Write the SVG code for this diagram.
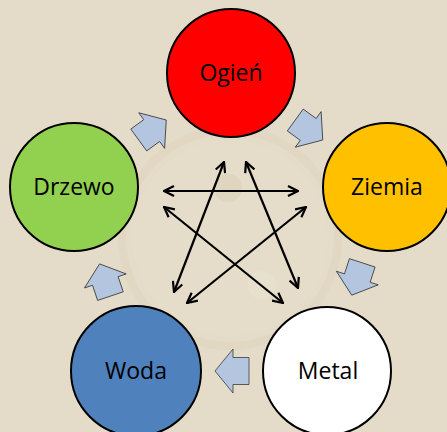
<svg xmlns="http://www.w3.org/2000/svg" width="447" height="432" viewBox="0 0 447 432">
  <style>
    .node circle { stroke: #000; stroke-width: 2; }
    .node text { font-family: "Open Sans", "Liberation Sans", sans-serif; font-size: 23px; fill: #000; text-anchor: middle; }
    .flow { fill: #B4C5E0; stroke: #3A3A3A; stroke-width: 0.8; stroke-linejoin: miter; }
    .ctrl { stroke: #000; stroke-width: 2.2; fill: none; marker-start: url(#head); marker-end: url(#head); }
    .wm { fill: none; stroke: #DED3BB; }
  </style>
  <defs>
    <marker id="head" viewBox="0 0 12 12" refX="11" refY="6" markerWidth="12" markerHeight="12" markerUnits="userSpaceOnUse" orient="auto-start-reverse">
      <path d="M1,1 L11,6 L1,11" fill="none" stroke="#000" stroke-width="2.2" stroke-linejoin="miter"/>
    </marker>
    <path id="blk" d="M17,0 L-1,-22 L-1,-13.5 L-17,-13.5 L-17,13.5 L-1,13.5 L-1,22 Z"/>
  </defs>

  <rect width="447" height="432" fill="#E4DCC8"/>

  <!-- faint background watermark -->
  <g id="watermark" opacity="0.45">
    <circle class="wm" cx="230" cy="238" r="108" stroke-width="8"/>
    <circle cx="230" cy="238" r="98" fill="#E7E0CE"/>
    <circle cx="262" cy="285" r="14" fill="#EBE5D5"/>
    <circle cx="228" cy="188" r="14" fill="#DCCFB5"/>
  </g>

  <g id="connectors">
    <use href="#blk" class="flow" transform="translate(152.5,130) rotate(-36)"/>
    <use href="#blk" class="flow" transform="translate(309,130) rotate(36)"/>
    <use href="#blk" class="flow" transform="translate(357,279) rotate(108)"/>
    <use href="#blk" class="flow" transform="translate(232,371) rotate(180)"/>
    <use href="#blk" class="flow" transform="translate(105,280) rotate(-108.6)"/>

    <line class="ctrl" x1="164" y1="191" x2="298" y2="191"/>
    <line class="ctrl" x1="224" y1="162" x2="174" y2="292"/>
    <line class="ctrl" x1="246" y1="162" x2="298" y2="288"/>
    <line class="ctrl" x1="164" y1="207" x2="283" y2="303"/>
    <line class="ctrl" x1="306" y1="207" x2="187" y2="303"/>
  </g>

  <g id="ogien" class="node">
    <circle cx="231" cy="73" r="64" fill="#FF0000"/>
    <text x="231" y="81">Ogień</text>
  </g>
  <g id="ziemia" class="node">
    <circle cx="387" cy="187" r="64" fill="#FFC000"/>
    <text x="387" y="195">Ziemia</text>
  </g>
  <g id="metal" class="node">
    <circle cx="327" cy="371" r="64" fill="#FFFFFF"/>
    <text x="328" y="379">Metal</text>
  </g>
  <g id="woda" class="node">
    <circle cx="136" cy="371" r="65" fill="#4F81BD"/>
    <text x="136" y="379">Woda</text>
  </g>
  <g id="drzewo" class="node">
    <circle cx="74" cy="187" r="64" fill="#92D050"/>
    <text x="74" y="195">Drzewo</text>
  </g>
</svg>
